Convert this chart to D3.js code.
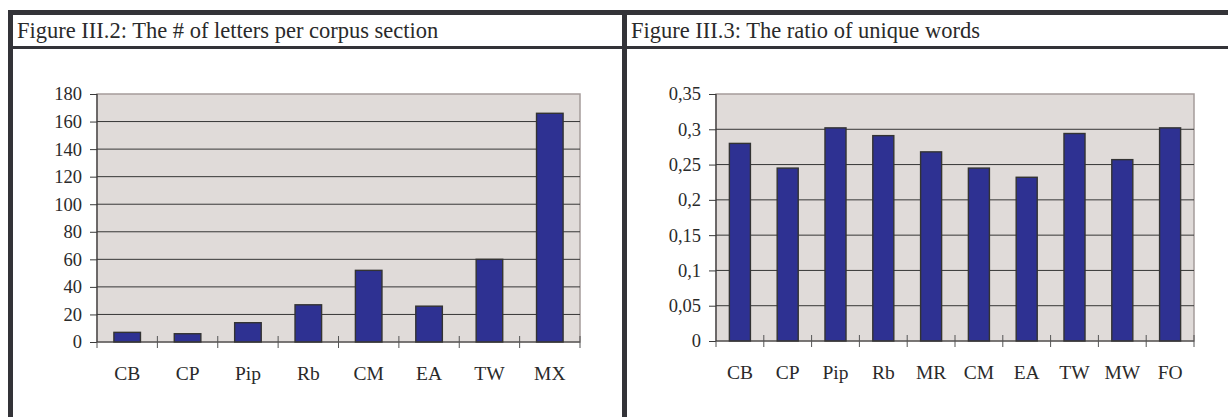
<!DOCTYPE html>
<html>
<head>
<meta charset="utf-8">
<script src="https://cdn.jsdelivr.net/npm/d3@7"></script>
<style>
  html, body { margin: 0; padding: 0; background: #fff; }
  svg { display: block; }
  text { font-family: "Liberation Serif", "Times New Roman", serif; fill: #2a2a2a; }
</style>
</head>
<body>
<svg id="fig" width="1228" height="417"></svg>
<script>
// Figure III.2 — letters per corpus section
const lettersCategories = ["CB", "CP", "Pip", "Rb", "CM", "EA", "TW", "MX"];
const lettersValues = [7, 6, 14, 27, 52, 26, 60, 166];
const lettersTicks = [0, 20, 40, 60, 80, 100, 120, 140, 160, 180];
const lettersTitle = "Figure III.2: The # of letters per corpus section";

// Figure III.3 — ratio of unique words
const ratioCategories = ["CB", "CP", "Pip", "Rb", "MR", "CM", "EA", "TW", "MW", "FO"];
const ratioValues = [0.280, 0.245, 0.302, 0.291, 0.268, 0.245, 0.232, 0.294, 0.257, 0.302];
const ratioTicks = [0, 0.05, 0.1, 0.15, 0.2, 0.25, 0.3, 0.35];
const ratioTitle = "Figure III.3: The ratio of unique words";

const svg = d3.select("#fig");
const frameColor = "#333338";

// table-like frame around the two figures
svg.append("rect").attr("x", 8).attr("y", 10).attr("width", 1220).attr("height", 5).attr("fill", frameColor);
svg.append("rect").attr("x", 8).attr("y", 46).attr("width", 1220).attr("height", 3).attr("fill", frameColor);
svg.append("rect").attr("x", 8).attr("y", 10).attr("width", 5).attr("height", 407).attr("fill", frameColor);
svg.append("rect").attr("x", 622).attr("y", 10).attr("width", 5).attr("height", 407).attr("fill", frameColor);

function drawPanel(cfg) {
  const g = svg.append("g");

  g.append("text")
    .attr("x", cfg.titleX).attr("y", 38)
    .attr("font-size", 22.5)
    .text(cfg.title);

  const x = d3.scaleBand().domain(cfg.categories).range([cfg.left, cfg.right]).paddingInner(0).paddingOuter(0);
  const y = d3.scaleLinear().domain([0, cfg.max]).range([cfg.bottom, cfg.top]);

  // plot background
  g.append("rect")
    .attr("x", cfg.left).attr("y", cfg.top)
    .attr("width", cfg.right - cfg.left).attr("height", cfg.bottom - cfg.top)
    .attr("fill", "#e0dbd9")
    .attr("stroke", "#a59c9a").attr("stroke-width", 1.5);

  // horizontal gridlines
  g.selectAll("line.grid")
    .data(cfg.ticks.filter(t => t > 0 && t < cfg.max))
    .join("line")
    .attr("class", "grid")
    .attr("x1", cfg.left).attr("x2", cfg.right)
    .attr("y1", d => y(d)).attr("y2", d => y(d))
    .attr("stroke", "#363636").attr("stroke-width", 1);

  // bars
  const barW = x.bandwidth() * cfg.barFrac;
  g.selectAll("rect.bar")
    .data(cfg.values)
    .join("rect")
    .attr("class", "bar")
    .attr("x", (d, i) => x(cfg.categories[i]) + (x.bandwidth() - barW) / 2)
    .attr("y", d => y(d))
    .attr("width", barW)
    .attr("height", d => cfg.bottom - y(d))
    .attr("fill", "#2e3192")
    .attr("stroke", "#333333").attr("stroke-width", 1.4);

  // y axis
  const yAxis = d3.axisLeft(y).tickValues(cfg.ticks).tickSize(7).tickPadding(8)
    .tickFormat(cfg.format);
  const ya = g.append("g").attr("transform", `translate(${cfg.left},0)`).call(yAxis);
  ya.attr("font-family", null);
  ya.select(".domain").attr("stroke", "#3a3a3a").attr("stroke-width", 1.2).attr("d", `M0,${cfg.top}V${cfg.bottom}`);
  ya.selectAll(".tick line").attr("stroke", "#3a3a3a");
  ya.selectAll(".tick text")
    .attr("font-size", 18.5).attr("fill", "#2a2a2a");

  // x axis baseline
  g.append("line")
    .attr("x1", cfg.left).attr("x2", cfg.right)
    .attr("y1", cfg.bottom).attr("y2", cfg.bottom)
    .attr("stroke", "#3a3a3a").attr("stroke-width", 1.2);

  // category separators crossing the baseline
  const bounds = cfg.categories.map(c => x(c)).concat([cfg.right]);
  g.selectAll("line.sep")
    .data(bounds)
    .join("line")
    .attr("class", "sep")
    .attr("x1", d => d).attr("x2", d => d)
    .attr("y1", (d, i) => i === 0 ? cfg.bottom : cfg.bottom - 6)
    .attr("y2", cfg.bottom + 6)
    .attr("stroke", "#555").attr("stroke-width", 1);

  // category labels
  g.selectAll("text.cat")
    .data(cfg.categories)
    .join("text")
    .attr("class", "cat")
    .attr("x", d => x(d) + x.bandwidth() / 2)
    .attr("y", cfg.bottom + 38)
    .attr("text-anchor", "middle")
    .attr("font-size", 19.5)
    .text(d => d);
}

drawPanel({
  title: lettersTitle, titleX: 17,
  categories: lettersCategories, values: lettersValues, ticks: lettersTicks,
  max: 180, left: 97, right: 580, top: 94, bottom: 342, barFrac: 0.44,
  format: d3.format("d")
});

const commaFmt = d => String(d).replace(".", ",");
drawPanel({
  title: ratioTitle, titleX: 631,
  categories: ratioCategories, values: ratioValues, ticks: ratioTicks,
  max: 0.35, left: 716, right: 1194, top: 94, bottom: 341, barFrac: 0.44,
  format: commaFmt
});
</script>
</body>
</html>
